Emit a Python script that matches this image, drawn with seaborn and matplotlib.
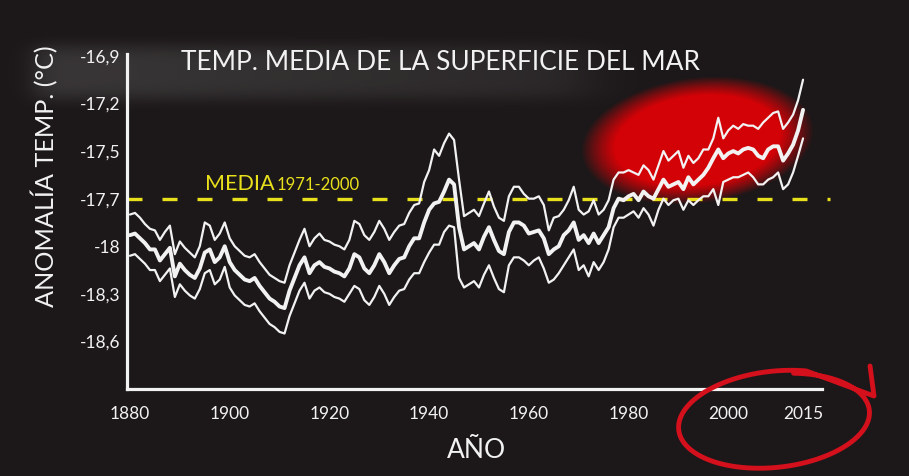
import numpy as np
import pandas as pd
import seaborn as sns
import matplotlib
matplotlib.use("Agg")
import matplotlib.pyplot as plt

# ---------------- data ----------------
years = list(range(1880, 2016))

sst_mean = [
    -17.93, -17.92, -17.95, -17.98, -18.02, -18.02, -18.09, -18.05, -18.01, -18.19,
    -18.11, -18.15, -18.18, -18.20, -18.14, -18.04, -18.02, -18.10, -18.07, -18.00,
    -18.10, -18.15, -18.18, -18.21, -18.22, -18.20, -18.25, -18.29, -18.33, -18.35,
    -18.38, -18.39, -18.28, -18.20, -18.12, -18.07, -18.17, -18.12, -18.10, -18.13,
    -18.14, -18.16, -18.17, -18.19, -18.14, -18.05, -18.07, -18.14, -18.17, -18.12,
    -18.05, -18.10, -18.17, -18.12, -18.08, -18.07, -18.00, -17.95, -17.95, -17.85,
    -17.77, -17.73, -17.72, -17.67, -17.62, -17.64, -17.88, -18.02, -18.00, -17.98,
    -18.02, -17.94, -17.88, -17.96, -18.03, -18.05, -17.91, -17.85, -17.85, -17.87,
    -17.92, -17.91, -17.90, -17.95, -18.05, -18.02, -18.00, -17.93, -17.90, -17.85,
    -17.96, -17.93, -17.98, -17.92, -17.98, -17.93, -17.88, -17.76, -17.70, -17.71,
    -17.69, -17.68, -17.71, -17.67, -17.69, -17.70, -17.66, -17.62, -17.65, -17.64,
    -17.63, -17.66, -17.61, -17.64, -17.62, -17.60, -17.57, -17.53, -17.49, -17.53,
    -17.51, -17.50, -17.51, -17.49, -17.48, -17.49, -17.52, -17.53, -17.49, -17.47,
    -17.47, -17.54, -17.51, -17.46, -17.37, -17.24,
]

sst_upper = [
    -17.80, -17.79, -17.82, -17.86, -17.89, -17.90, -17.96, -17.91, -17.87, -18.05,
    -17.97, -18.01, -18.04, -18.07, -18.00, -17.85, -17.87, -17.96, -17.92, -17.85,
    -17.95, -18.00, -18.03, -18.06, -18.07, -18.05, -18.10, -18.14, -18.18, -18.20,
    -18.22, -18.23, -18.12, -18.04, -17.96, -17.89, -18.00, -17.95, -17.92, -17.96,
    -17.97, -17.99, -18.00, -18.02, -17.96, -17.84, -17.86, -17.93, -17.96, -17.91,
    -17.84, -17.89, -17.96, -17.91, -17.87, -17.86, -17.79, -17.74, -17.73, -17.63,
    -17.58, -17.49, -17.52, -17.45, -17.39, -17.43, -17.62, -17.81, -17.79, -17.77,
    -17.81, -17.73, -17.67, -17.75, -17.82, -17.84, -17.69, -17.65, -17.65, -17.68,
    -17.70, -17.70, -17.69, -17.74, -17.90, -17.82, -17.81, -17.77, -17.71, -17.65,
    -17.77, -17.80, -17.78, -17.71, -17.80, -17.77, -17.71, -17.62, -17.59, -17.59,
    -17.58, -17.59, -17.60, -17.56, -17.58, -17.62, -17.56, -17.50, -17.54, -17.52,
    -17.50, -17.57, -17.52, -17.55, -17.53, -17.49, -17.49, -17.42, -17.29, -17.42,
    -17.37, -17.34, -17.36, -17.33, -17.34, -17.34, -17.36, -17.32, -17.29, -17.26,
    -17.25, -17.36, -17.32, -17.27, -17.18, -17.05,
]

sst_lower = [
    -18.06, -18.05, -18.08, -18.11, -18.15, -18.15, -18.22, -18.18, -18.14, -18.32,
    -18.24, -18.28, -18.31, -18.33, -18.27, -18.17, -18.15, -18.24, -18.21, -18.13,
    -18.26, -18.31, -18.34, -18.37, -18.38, -18.36, -18.41, -18.45, -18.49, -18.51,
    -18.54, -18.55, -18.44, -18.36, -18.28, -18.23, -18.33, -18.28, -18.26, -18.29,
    -18.30, -18.32, -18.33, -18.35, -18.30, -18.25, -18.27, -18.34, -18.37, -18.32,
    -18.25, -18.30, -18.37, -18.32, -18.28, -18.27, -18.21, -18.17, -18.17, -18.10,
    -18.04, -17.99, -17.99, -17.91, -17.87, -17.88, -18.20, -18.26, -18.24, -18.22,
    -18.26, -18.18, -18.12, -18.20, -18.27, -18.29, -18.12, -18.07, -18.07, -18.09,
    -18.12, -18.09, -18.07, -18.14, -18.23, -18.21, -18.17, -18.12, -18.07, -18.02,
    -18.15, -18.12, -18.19, -18.10, -18.15, -18.10, -18.02, -17.88, -17.82, -17.82,
    -17.80, -17.78, -17.82, -17.76, -17.80, -17.87, -17.77, -17.70, -17.74, -17.71,
    -17.70, -17.77, -17.71, -17.74, -17.71, -17.69, -17.69, -17.66, -17.74, -17.63,
    -17.62, -17.61, -17.61, -17.60, -17.59, -17.61, -17.64, -17.64, -17.62, -17.61,
    -17.59, -17.66, -17.64, -17.59, -17.52, -17.42,
]

baseline_value = -17.7
baseline_label_big = "MEDIA"
baseline_label_small = "1971-2000"

y_tick_values = [-18.6, -18.3, -18.0, -17.7, -17.5, -17.2, -16.9]
y_tick_labels = ["-18,6", "-18,3", "-18", "-17,7", "-17,5", "-17,2", "-16,9"]
x_tick_values = [1880, 1900, 1920, 1940, 1960, 1980, 2000, 2015]
x_tick_labels = ["1880", "1900", "1920", "1940", "1960", "1980", "2000", "2015"]

title_text = "TEMP. MEDIA DE LA SUPERFICIE DEL MAR"
ylabel_text = "ANOMALÍA TEMP. (°C)"
xlabel_text = "AÑO"

# ---------------- style ----------------
sns.set_style("dark")
plt.rcParams["font.family"] = ["Lato", "DejaVu Sans"]

BG = "#1c1819"
WHITE = "#f2f2f2"
YELLOW = "#e9e01c"
RED = "#d3101c"

W, H = 909, 476
fig = plt.figure(figsize=(W / 100, H / 100), dpi=100, facecolor=BG)

# background decoration axes (pixel coordinates)
bg = fig.add_axes([0, 0, 1, 1], zorder=0)
bg.set_xlim(0, W)
bg.set_ylim(H, 0)
bg.axis("off")
bg.set_facecolor(BG)

gx, gy = np.meshgrid(np.arange(W), np.arange(H))


def sig(v):
    return 1.0 / (1.0 + np.exp(-v))


# grey blurred haze behind the title (top-left)
haze_a = sig((gx - 35) / 8.0) * sig((590 - gx) / 18.0) * np.exp(-((gy - 72) / 28.0) ** 4)
haze_a *= 0.24 - 0.12 * (gx / 590.0).clip(0, 1)
haze = np.zeros((H, W, 4))
haze[..., :3] = 0.62
haze[..., 3] = haze_a.clip(0, 1)
bg.imshow(haze, extent=(0, W, H, 0), interpolation="bilinear", zorder=1)

# red warm cloud around the recent decades
cx, cy, ax_a, ax_b, ang = 697.0, 140.0, 117.0, 63.0, np.deg2rad(-7)
dx, dy = gx - cx, gy - cy
u = dx * np.cos(ang) + dy * np.sin(ang)
v = -dx * np.sin(ang) + dy * np.cos(ang)
r2 = (u / ax_a) ** 2 + (v / ax_b) ** 2
cloud_a = np.clip(2.0 * (1.0 - r2), 0, 1) * 0.92
cloud = np.zeros((H, W, 4))
cloud[..., 0] = 0.90
cloud[..., 1] = 0.0
cloud[..., 2] = 0.02
cloud[..., 3] = cloud_a
bg.imshow(cloud, extent=(0, W, H, 0), interpolation="bilinear", zorder=2)

# ---------------- main chart ----------------
ax = fig.add_axes([127 / W, 87 / H, 695 / W, 335 / H], zorder=2)
ax.set_facecolor("none")

scale_vals = np.array([-19.5, -18.6, -17.7, -17.5, -16.9, -16.0])
scale_pos = np.array([-3.0, 0.0, 3.0, 4.0, 6.0, 9.0])


def fwd(vv):
    return np.interp(vv, scale_vals, scale_pos)


def inv(pp):
    return np.interp(pp, scale_pos, scale_vals)


ax.set_yscale("function", functions=(fwd, inv))

df = pd.DataFrame({"year": years, "mean": sst_mean,
                   "upper": sst_upper, "lower": sst_lower})

ax.axhline(baseline_value, xmin=0, xmax=1.012, color=YELLOW, lw=2.4,
           dashes=(4.5, 6.0), clip_on=False, zorder=1)

sns.lineplot(data=df, x="year", y="upper", ax=ax, color=WHITE, lw=1.6, zorder=3)
sns.lineplot(data=df, x="year", y="lower", ax=ax, color=WHITE, lw=1.6, zorder=3)
sns.lineplot(data=df, x="year", y="mean", ax=ax, color=WHITE, lw=2.8, zorder=4)

ax.set_xlim(1879.4, 2018.8)
ax.set_ylim(-18.90, -16.888)

ax.set_yticks(y_tick_values)
ax.set_yticklabels(y_tick_labels)
ax.set_xticks(x_tick_values)
ax.set_xticklabels(x_tick_labels)
ax.yaxis.set_minor_locator(matplotlib.ticker.NullLocator())
ax.tick_params(axis="both", length=0, colors=WHITE, labelsize=12.5)
ax.tick_params(axis="y", pad=5)
ax.tick_params(axis="x", pad=12)
ax.set_xlabel("")
ax.set_ylabel("")
ax.grid(False)

for side in ["top", "right"]:
    ax.spines[side].set_visible(False)
for side in ["left", "bottom"]:
    ax.spines[side].set_color(WHITE)
    ax.spines[side].set_linewidth(2.3)

# ---------------- overlay texts and annotation ----------------
ov = fig.add_axes([0, 0, 1, 1], zorder=5)
ov.set_xlim(0, W)
ov.set_ylim(H, 0)
ov.axis("off")
ov.set_facecolor("none")

ov.text(181, 63, title_text, color=WHITE, fontsize=19,
        ha="left", va="center")
ov.text(45, 176, ylabel_text, color=WHITE, fontsize=18.2,
        rotation=90, ha="center", va="center")
ov.text(476, 450, xlabel_text, color=WHITE, fontsize=19,
        ha="center", va="center")
ov.text(205, 190, baseline_label_big, color=YELLOW, fontsize=15.5,
        ha="left", va="baseline")
ov.text(277, 190, baseline_label_small, color=YELLOW, fontsize=12,
        ha="left", va="baseline")

# hand-drawn red loop around the latest years
t = np.linspace(-0.42 * np.pi, 1.62 * np.pi, 300)
rx = 94 + 4 * (t - t[0]) / (t[-1] - t[0])
ry = 46 + 3 * (t - t[0]) / (t[-1] - t[0])
rot = np.deg2rad(-6)
ex = rx * np.cos(t)
ey = ry * np.sin(t)
px = 775 + ex * np.cos(rot) - ey * np.sin(rot)
py = 420 + ex * np.sin(rot) + ey * np.cos(rot)
px = np.concatenate([px, [874, 870]])
py = np.concatenate([py, [396, 366]])
ov.plot(px, py, color=RED, lw=3.5, solid_capstyle="round", solid_joinstyle="round")

fig.savefig("out.png", dpi=100, facecolor=BG)
